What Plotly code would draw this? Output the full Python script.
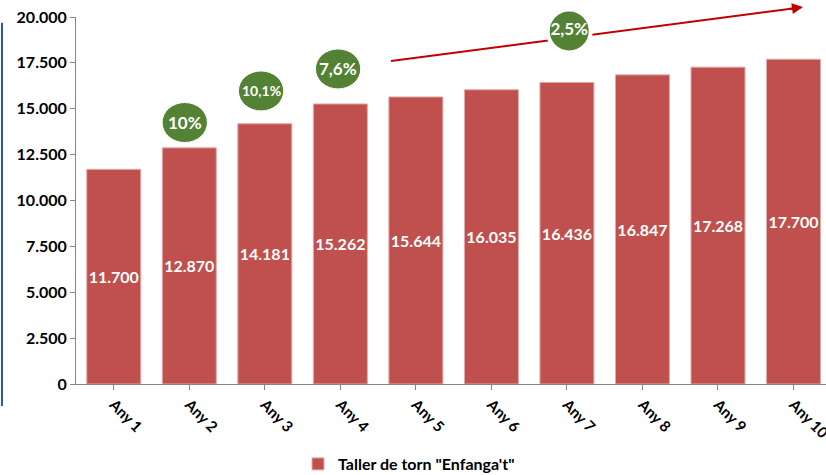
import plotly.graph_objects as go

categories = ["Any 1", "Any 2", "Any 3", "Any 4", "Any 5", "Any 6", "Any 7", "Any 8", "Any 9", "Any 10"]
values = [11700, 12870, 14181, 15262, 15644, 16035, 16436, 16847, 17268, 17700]
growth_labels = ["10%", "10,1%", "7,6%", "2,5%"]
series_name = 'Taller de torn "Enfanga\'t"'

BAR = "#C0504D"
GREEN = "#548235"
ARROW = "#C00000"
FONT = "Lato"

fig = go.Figure()
fig.add_trace(go.Bar(
    x=list(range(len(categories))), y=values, name=series_name,
    marker=dict(color=BAR, line=dict(color="#E2AAA8", width=1)),
    texttemplate="%{y:,}", textposition="inside", insidetextanchor="middle",
    textangle=0, constraintext="none",
    textfont=dict(color="white", size=16, family=FONT, weight="bold"),
    cliponaxis=True, showlegend=True,
))

# bubble sitting on the trend arrow (drawn as a marker so it can overflow the plot top)
fig.add_trace(go.Scatter(
    x=[6.03], y=[19237], mode="markers+text", text=[growth_labels[3]],
    textposition="middle center", cliponaxis=False, showlegend=False, hoverinfo="skip",
    marker=dict(size=43, color=GREEN, line=dict(color="white", width=4)),
    textfont=dict(color="white", size=17, family=FONT, weight="bold"),
))

shapes = []
annotations = []

# blue border line on the left
shapes.append(dict(type="line", xref="paper", yref="paper", x0=-0.0987, x1=-0.0987,
                   y0=0.984, y1=-0.06, line=dict(color="#2F5597", width=2), layer="below"))

# trend arrow line (paper coords, above plot)
ax0, ay0, ax1, ay1 = 0.42, 0.880, 0.966, 1.026
shapes.append(dict(type="line", xref="paper", yref="paper", x0=ax0, y0=ay0, x1=ax1, y1=ay1,
                   line=dict(color=ARROW, width=2), layer="below"))
annotations.append(dict(xref="paper", yref="paper", x=0.9693, y=1.0272, ax=-14, ay=2,
                        showarrow=True, arrowhead=2, arrowsize=1.1, arrowwidth=2,
                        arrowcolor=ARROW, text=""))

# growth bubbles: (x center in category units, y center in data units, label, font size)
bubbles = [
    (1 - 0.06, 14250, growth_labels[0], 17),
    (2 - 0.05, 15970, growth_labels[1], 14),
    (3 - 0.03, 17170, growth_labels[2], 17),
]
hw = 0.30
hh = 1090
for xc, yc, txt, fs in bubbles:
    shapes.append(dict(type="circle", xref="x", yref="y", x0=xc - hw, x1=xc + hw,
                       y0=yc - hh, y1=yc + hh, fillcolor=GREEN,
                       line=dict(color="white", width=1), layer="above"))
    annotations.append(dict(xref="x", yref="y", x=xc, y=yc, text=txt, showarrow=False,
                            font=dict(color="white", size=fs, family=FONT, weight="bold")))

fig.update_layout(
    template="none",
    width=826, height=475,
    margin=dict(l=76, r=0, t=17, b=91, autoexpand=False),
    paper_bgcolor="white", plot_bgcolor="rgba(0,0,0,0)",
    separators=",.",
    bargap=0.285,
    font=dict(family=FONT, color="black"),
    shapes=shapes, annotations=annotations,
    legend=dict(orientation="h", x=0.444, xanchor="center", y=-0.218, yanchor="middle",
                font=dict(size=16, family=FONT, weight="bold", color="black"),
                itemwidth=30, bgcolor="rgba(0,0,0,0)"),
    xaxis=dict(tickmode="array", tickvals=list(range(len(categories))), ticktext=categories,
               range=[-0.5, 9.43], tickangle=45, showline=True, linecolor="#868686",
               linewidth=1, ticks="outside", ticklen=5, tickcolor="#868686",
               tickson="boundaries", showgrid=False, zeroline=False, automargin=False,
               ticklabeloverflow="allow",
               tickfont=dict(size=15, family=FONT, weight="bold", color="black")),
    yaxis=dict(range=[0, 20000], tickmode="array",
               tickvals=[0, 2500, 5000, 7500, 10000, 12500, 15000, 17500, 20000],
               tickformat=",", showline=True, linecolor="#868686", linewidth=1,
               ticks="outside", ticklen=5, tickcolor="#868686", showgrid=False,
               zeroline=False, automargin=False,
               tickfont=dict(size=16, family=FONT, weight="bold", color="black")),
)

fig.write_html("out.html", config={"displayModeBar": False},
               post_script="document.body.style.margin='0px';")
